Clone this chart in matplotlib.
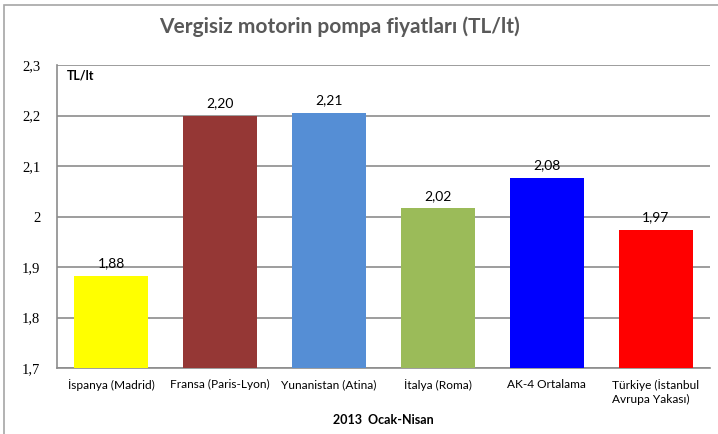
import matplotlib
matplotlib.use("Agg")
import matplotlib.pyplot as plt
from matplotlib.patches import Rectangle

categories = ["İspanya (Madrid)", "Fransa (Paris-Lyon)", "Yunanistan (Atina)",
              "İtalya (Roma)", "AK-4 Ortalama", "Türkiye (İstanbul\nAvrupa Yakası)"]
values = [1.882, 2.199, 2.205, 2.016, 2.076, 1.973]
value_labels = ["1,88", "2,20", "2,21", "2,02", "2,08", "1,97"]
colors = ["#FFFF00", "#953735", "#558ED5", "#9BBB59", "#0000FF", "#FF0000"]
yticks = [1.7, 1.8, 1.9, 2.0, 2.1, 2.2, 2.3]
ytick_labels = ["1,7", "1,8", "1,9", "2", "2,1", "2,2", "2,3"]

sans = ["Lato", "DejaVu Sans"]

fig = plt.figure(figsize=(7.18, 4.34), dpi=100)
fig.patches.append(Rectangle((4/718, -0.05), 1.2, 1 - 5/434 + 0.05, transform=fig.transFigure,
                             fill=False, edgecolor="#A6A6A6", linewidth=1.2))
ax = fig.add_axes([57/718, 1 - 368/434, (710 - 57)/718, (368 - 65)/434])

x = range(len(categories))
ax.bar(x, [v - 1.7 for v in values], bottom=1.7, width=0.68, color=colors, zorder=3)
for xi, v, lab in zip(x, values, value_labels):
    ax.text(xi, v + 0.013, lab, ha="center", va="bottom", fontsize=10, family=sans, color="#000000")

ax.set_xlim(-0.5, len(categories) - 0.5)
ax.set_ylim(1.7, 2.3)
ax.set_yticks(yticks)
ax.set_yticklabels(ytick_labels, family="Liberation Serif", fontsize=10.5)
ax.set_xticks(list(x))
ax.set_xticklabels(categories, family=sans, fontsize=8.6, linespacing=1.35)
for lab in ax.get_xticklabels():
    lab.set_multialignment("left")
ax.tick_params(axis="x", length=0, pad=8)
ax.tick_params(axis="y", length=0, pad=12)
ax.grid(axis="y", color="#8C8C8C", linewidth=1.2, zorder=0)
for s in ["top", "right"]:
    ax.spines[s].set_visible(False)
ax.spines["left"].set_color("#8C8C8C")
ax.spines["bottom"].set_color("#8C8C8C")
ax.spines["left"].set_linewidth(1.2)
ax.spines["bottom"].set_linewidth(1.2)

ax.text(0.015, 0.985, "TL/lt", transform=ax.transAxes, ha="left", va="top",
        fontsize=9, fontweight="bold", family=sans)
fig.text(383/718, 1 - 420/434, "2013  Ocak-Nisan", ha="center", va="center",
         fontsize=9, fontweight="bold", family=sans)
fig.text(339/718, 1 - 27/434, "Vergisiz motorin pompa fiyatları (TL/lt)", ha="center", va="center",
         fontsize=15, fontweight="bold", family=sans, color="#595959")

fig.savefig("out.png", dpi=100)
